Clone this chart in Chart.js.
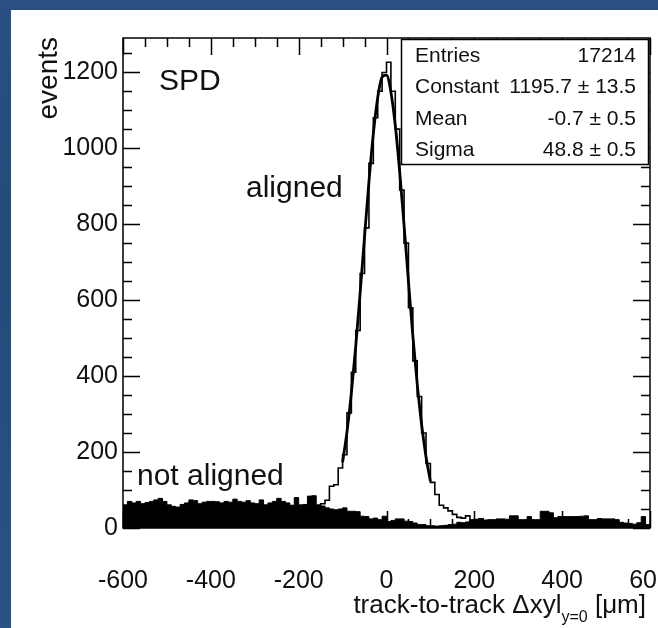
<!DOCTYPE html>
<html><head><meta charset="utf-8">
<script src="https://cdn.jsdelivr.net/npm/chart.js@4"></script>
<style>
html,body{margin:0;padding:0;}
body{width:658px;height:628px;overflow:hidden;background:linear-gradient(180deg,#2a4f82,#244a7c 40%,#2a5284);position:relative;}
#panel{position:absolute;left:11px;top:10px;width:647px;height:618px;background:#fff;}
#c{position:absolute;left:0;top:0;}
</style></head><body>
<div id="panel"></div>
<canvas id="c" width="658" height="628"></canvas>
<script>
// ---- data ----
const xRange = [-600, 600];
const binWidth = 10;
const xTicks = [-600, -400, -200, 0, 200, 400, 600];
const yTicks = [0, 200, 400, 600, 800, 1000, 1200];
const yMax = 1290;

// aligned histogram (120 bins of 10 um, from -600 to 600)
const aligned = [
  3,4,2,5,3,4,6,3,5,4, 6,5,4,7,5,6,5,8,6,7, 7,9,6,8,10,8,9,11,9,12, 10,13,12,11,14,13,15,16,18,20,
  22,28,34,40,46,64,73,110,114,158, 193,303,410,520,670,790,960,1080,1150,1199,
  1226,1150,1050,890,750,580,440,346,250,170, 120,88,60,53,45,36,28,26,32,14,
  22,24,18,16,14,15,12,13,11,10, 12,9,11,10,8,9,10,8,9,7, 8,9,7,8,6,7,8,6,7,5, 6,7,5,6,5,4,6,5,4,5
];
// not aligned histogram (filled black)
const notAligned = [
  61,70,66,70,64,67,70,74,78,70, 61,57,55,62,66,74,72,64,68,70, 70,69,66,70,68,76,70,68,72,66, 64,74,61,66,70,78,70,66,60,80,
  61,62,84,85,61,58,53,50,48,50, 53,44,44,43,31,30,24,26,22,31,
  17,20,24,24,18,17,13,9,9,6, 6,5,6,7,9,10,15,14,16,22,
  20,22,21,22,22,24,24,23,32,32, 22,22,30,22,22,44,44,40,27,30, 30,30,30,30,31,32,22,22,25,24, 24,24,22,15,13,12,10,14,30,9
];
// gaussian fit curve
const fitX = [-100,-90,-80,-70,-60,-50,-40,-30,-20,-10,0,10,20,30,40,50,60,70,80,90,100];
const fitY = [173,253,356,479,619,767,911,1038,1133,1187,1192,1148,1060,938,797,649,506,379,272,187,123];

const statLabels = ['Entries', 'Constant', 'Mean', 'Sigma'];
const statValues = ['17214', '1195.7 \u00b1 13.5', '-0.7 \u00b1 0.5', '48.8 \u00b1 0.5'];
const notes = {spd: 'SPD', aligned: 'aligned', notAligned: 'not aligned'};
const yTitle = 'events';

const FONT = '"Liberation Sans", Arial, Helvetica, sans-serif';

function hist(vals) {
  const pts = [{x: xRange[0], y: 0}];
  vals.forEach((v, i) => pts.push({x: xRange[0] + i * binWidth, y: v}));
  const end = xRange[0] + vals.length * binWidth;
  pts.push({x: end, y: vals[vals.length - 1]});
  pts.push({x: end, y: 0});
  return pts;
}

const decor = {
  id: 'decor',
  afterDatasetsDraw(chart) {
    const {ctx, chartArea: a, scales: {x, y}} = chart;
    ctx.save();
    ctx.strokeStyle = '#000';
    ctx.lineWidth = 1.5;
    ctx.beginPath();
    for (let v = xRange[0]; v <= xRange[1]; v += 50) {
      const px = Math.round(x.getPixelForValue(v)) + 0.5;
      const len = (v % 200 === 0) ? 17 : 9;
      ctx.moveTo(px, a.bottom); ctx.lineTo(px, a.bottom - len);
      ctx.moveTo(px, a.top); ctx.lineTo(px, a.top + len);
    }
    for (let v = 0; v <= yMax; v += 50) {
      const py = Math.round(y.getPixelForValue(v)) + 0.5;
      const len = (v % 200 === 0) ? 17 : 9;
      ctx.moveTo(a.left, py); ctx.lineTo(a.left + len, py);
      ctx.moveTo(a.right, py); ctx.lineTo(a.right - len, py);
    }
    ctx.stroke();
    ctx.strokeRect(a.left, a.top, a.right - a.left, a.bottom - a.top);

    // stat box
    const bx = 401, by = a.top + 1, bw = a.right - 2 - bx, bh = 164 - by;
    ctx.fillStyle = '#fff';
    ctx.fillRect(bx, by, bw, bh);
    ctx.lineWidth = 1.5;
    ctx.strokeRect(bx + 0.5, by + 0.5, bw, bh);
    ctx.fillStyle = '#111';
    ctx.font = '21px ' + FONT;
    ctx.textBaseline = 'alphabetic';
    statLabels.forEach((l, i) => {
      const base = 62 + i * 31.3;
      ctx.textAlign = 'left';
      ctx.fillText(l, 415, base);
      ctx.textAlign = 'right';
      ctx.fillText(statValues[i], 636, base);
    });

    // annotations
    ctx.textAlign = 'left';
    ctx.font = '30px ' + FONT;
    ctx.fillText(notes.spd, 159, 90);
    ctx.fillText(notes.aligned, 246, 197);
    ctx.fillText(notes.notAligned, 137, 485);

    // y title
    ctx.save();
    ctx.font = '28px ' + FONT;
    ctx.translate(57, 37);
    ctx.rotate(-Math.PI / 2);
    ctx.textAlign = 'right';
    ctx.fillText(yTitle, 0, 0);
    ctx.restore();

    // x title: track-to-track Δxyl_{y=0} [μm]
    ctx.font = '26px ' + FONT;
    const p1 = 'track-to-track \u0394xyl', sub = 'y=0', p2 = ' [\u03bcm]';
    const w1 = ctx.measureText(p1).width;
    ctx.font = '16px ' + FONT;
    const ws = ctx.measureText(sub).width;
    ctx.font = '26px ' + FONT;
    const w2 = ctx.measureText(p2).width;
    let sx = 646 - (w1 + ws + w2);
    const base = 613;
    ctx.textAlign = 'left';
    ctx.fillText(p1, sx, base);
    ctx.font = '16px ' + FONT;
    ctx.fillText(sub, sx + w1, base + 9);
    ctx.font = '26px ' + FONT;
    ctx.fillText(p2, sx + w1 + ws, base);
    ctx.restore();
  }
};

new Chart(document.getElementById('c'), {
  type: 'line',
  data: {
    datasets: [
      {label: 'fit', data: fitX.map((v, i) => ({x: v, y: fitY[i]})), borderColor: '#000', borderWidth: 2.8,
       pointRadius: 0, cubicInterpolationMode: 'monotone', fill: false, order: 0},
      {label: 'aligned', data: hist(aligned), stepped: 'before', borderColor: '#000', borderWidth: 1.6,
       pointRadius: 0, fill: false, order: 1},
      {label: 'not aligned', data: hist(notAligned), stepped: 'before', borderColor: '#000', backgroundColor: '#000',
       borderWidth: 1, pointRadius: 0, fill: 'origin', order: 2}
    ]
  },
  options: {
    responsive: false, animation: false, devicePixelRatio: 1,
    layout: {padding: {left: 0, top: 38, right: 8, bottom: 0}},
    plugins: {legend: {display: false}, tooltip: {enabled: false}},
    scales: {
      x: {
        type: 'linear', min: xRange[0], max: xRange[1],
        grid: {display: false, drawTicks: false}, border: {display: false},
        ticks: {font: {size: 25, family: FONT}, color: '#111', padding: 38, maxRotation: 0, autoSkip: false,
                callback: v => String(v)},
        afterBuildTicks: s => { s.ticks = xTicks.map(v => ({value: v})); },
        afterFit: s => { s.height = 100; s.paddingLeft = 0; s.paddingRight = 0; }
      },
      y: {
        type: 'linear', min: 0, max: yMax,
        grid: {display: false, drawTicks: false}, border: {display: false},
        ticks: {font: {size: 25, family: FONT}, color: '#111', padding: 5, autoSkip: false,
                callback: v => String(v)},
        afterBuildTicks: s => { s.ticks = yTicks.map(v => ({value: v})); },
        afterFit: s => { s.width = 123; s.paddingTop = 0; s.paddingBottom = 0; }
      }
    }
  },
  plugins: [decor]
});
</script>
</body></html>
